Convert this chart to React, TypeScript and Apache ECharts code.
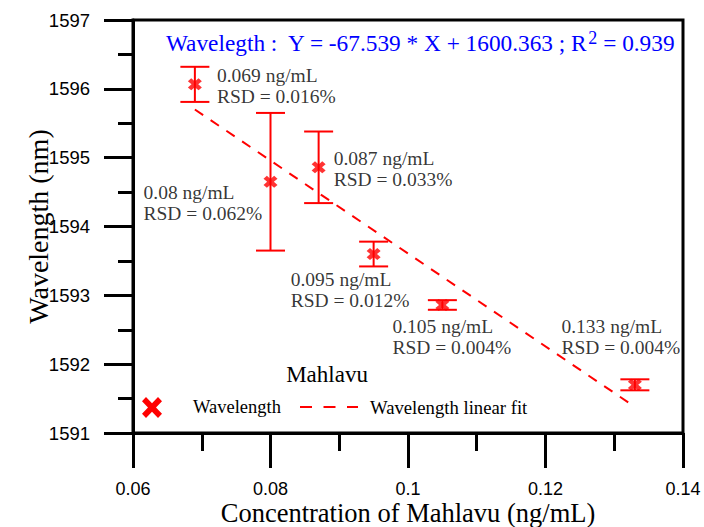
import React, { useEffect, useRef } from "react";
import * as echarts from "echarts";

// ---- data ----
const concentrations = [0.069, 0.08, 0.087, 0.095, 0.105, 0.133];
const wavelengths = [1596.065, 1594.65, 1594.86, 1593.6, 1592.86, 1591.7];
const errors = [0.255, 1.0, 0.52, 0.18, 0.07, 0.08];
const concLabels = ["0.069", "0.08", "0.087", "0.095", "0.105", "0.133"];
const rsdLabels = ["0.016", "0.062", "0.033", "0.012", "0.004", "0.004"];
const fitX = [0.069, 0.133];
const fitY = [1595.7, 1591.38];
const xTicks = { min: 0.06, max: 0.14, interval: 0.02 };
const yTicks = { min: 1591, max: 1597, interval: 1 };

// ---- layout (not data) ----
const LABEL_OFFSETS: [number, number][] = [
  [22, 1.5],
  [-127, 21],
  [15, 2],
  [-83, 36],
  [-50, 32],
  [-73.5, -48],
];

const RED = "#ff0000";
const SERIF = "'Liberation Serif', 'Times New Roman', serif";
const SANS = "'Liberation Sans', Arial, sans-serif";
const X_PATH =
  "path://M0,2.4 L2.4,0 L5,2.6 L7.6,0 L10,2.4 L7.4,5 L10,7.6 L7.6,10 L5,7.4 L2.4,10 L0,7.6 L2.6,5 Z";

function xPolygon(cx: number, cy: number, w: number, h: number) {
  const unit = [
    [0, 2], [2, 0], [5, 3], [8, 0], [10, 2], [7, 5],
    [10, 8], [8, 10], [5, 7], [2, 10], [0, 8], [3, 5],
  ];
  return unit.map(([ux, uy]) => [cx - w / 2 + (ux / 10) * w, cy - h / 2 + (uy / 10) * h]);
}

export default function App() {
  const ref = useRef<HTMLDivElement>(null);
  useEffect(() => {
    if (!ref.current) return;
    const chart = echarts.init(ref.current, undefined, { renderer: "svg" });
    const errData = concentrations.map((c, i) => [
      c,
      wavelengths[i] - errors[i],
      wavelengths[i] + errors[i],
    ]);
    const option: any = {
      animation: false,
      backgroundColor: "#fff",
      grid: {
        left: 133,
        right: 21,
        top: 20,
        bottom: 94,
        containLabel: false,
        outerBoundsMode: "none",
        show: true,
        borderColor: "#000",
        borderWidth: 3,
        backgroundColor: "transparent",
      },
      xAxis: {
        type: "value",
        min: xTicks.min,
        max: xTicks.max,
        interval: xTicks.interval,
        name: "Concentration of Mahlavu (ng/mL)",
        nameLocation: "middle",
        nameGap: 67,
        nameMoveOverlap: false,
        nameTextStyle: { fontFamily: SERIF, fontSize: 26.5, lineHeight: 26, color: "#000" },
        axisLine: { show: true, lineStyle: { color: "#000", width: 3 } },
        axisTick: { show: true, length: 35, lineStyle: { color: "#000", width: 3 } },
        minorTick: { show: true, splitNumber: 2, length: 18, lineStyle: { color: "#000", width: 3 } },
        splitLine: { show: false },
        minorSplitLine: { show: false },
        axisLabel: {
          margin: 47,
          fontFamily: SANS,
          fontSize: 18,
          lineHeight: 18,
          color: "#000",
          formatter: (v: number) => String(+v.toFixed(3)),
        },
      },
      yAxis: {
        type: "value",
        min: yTicks.min,
        max: yTicks.max,
        interval: yTicks.interval,
        name: "Wavelength (nm)",
        nameLocation: "middle",
        nameGap: 81,
        nameMoveOverlap: false,
        nameTextStyle: { fontFamily: SERIF, fontSize: 28, color: "#000" },
        axisLine: { show: true, lineStyle: { color: "#000", width: 3 } },
        axisTick: { show: true, length: 29, lineStyle: { color: "#000", width: 3 } },
        minorTick: { show: true, splitNumber: 2, length: 15, lineStyle: { color: "#000", width: 3 } },
        splitLine: { show: false },
        minorSplitLine: { show: false },
        axisLabel: {
          margin: 43,
          fontFamily: SANS,
          fontSize: 18.5,
          color: "#000",
          formatter: (v: number) => String(Math.round(v)),
        },
      },
      series: [
        {
          type: "line",
          data: fitX.map((x, i) => [x, fitY[i]]),
          showSymbol: false,
          symbol: "none",
          lineStyle: { color: RED, width: 2, type: [10, 9] },
          z: 2,
          silent: true,
        },
        {
          type: "custom",
          data: errData,
          z: 3,
          renderItem: (params: any, api: any) => {
            const x = api.value(0);
            const lo = api.value(1);
            const hi = api.value(2);
            const pt = api.coord([x, hi]);
            const pb = api.coord([x, lo]);
            const half = 14.5;
            const st = { stroke: RED, lineWidth: 2 };
            return {
              type: "group",
              children: [
                { type: "line", shape: { x1: pt[0], y1: pt[1], x2: pb[0], y2: pb[1] }, style: st },
                { type: "line", shape: { x1: pt[0] - half, y1: pt[1], x2: pt[0] + half, y2: pt[1] }, style: st },
                { type: "line", shape: { x1: pb[0] - half, y1: pb[1], x2: pb[0] + half, y2: pb[1] }, style: st },
              ],
            };
          },
        },
        {
          type: "scatter",
          symbol: X_PATH,
          symbolSize: [14, 12],
          itemStyle: { color: RED },
          z: 4,
          data: concentrations.map((c, i) => ({
            value: [c, wavelengths[i]],
            label: { offset: LABEL_OFFSETS[i] },
          })),
          label: {
            show: true,
            position: "inside",
            align: "left",
            verticalAlign: "middle",
            fontFamily: SERIF,
            fontSize: 19.5,
            lineHeight: 21,
            color: "#000",
            formatter: (p: any) =>
              `${concLabels[p.dataIndex]} ng/mL\nRSD = ${rsdLabels[p.dataIndex]}%`,
          },
        },
      ],
      graphic: [
        {
          type: "text",
          left: 166,
          top: 29,
          style: {
            text: "Wavelegth :  Y = -67.539 * X + 1600.363 ; R{sup|2} = 0.939",
            fontFamily: SERIF,
            fontSize: 23.3,
            fill: "#0000ff",
            lineHeight: 28,
            rich: {
              sup: {
                fontFamily: SERIF,
                fontSize: 18,
                fill: "#0000ff",
                color: "#0000ff",
                verticalAlign: "top",
                lineHeight: 18,
              },
            },
          },
        },
        {
          type: "text",
          x: 327,
          y: 374,
          style: {
            text: "Mahlavu",
            fontFamily: SERIF,
            fontSize: 23,
            fill: "#000",
            align: "center",
            verticalAlign: "middle",
          },
        },
        {
          type: "polygon",
          shape: { points: xPolygon(152, 407.5, 20, 21) },
          style: { fill: RED },
        },
        {
          type: "text",
          x: 193,
          y: 407,
          style: {
            text: "Wavelength",
            fontFamily: SERIF,
            fontSize: 18.5,
            fill: "#000",
            align: "left",
            verticalAlign: "middle",
          },
        },
        {
          type: "line",
          shape: { x1: 300, y1: 407, x2: 358, y2: 407 },
          style: { stroke: RED, lineWidth: 2, lineDash: [12, 11.5] },
        },
        {
          type: "text",
          x: 370,
          y: 407,
          style: {
            text: "Wavelength linear fit",
            fontFamily: SERIF,
            fontSize: 18.7,
            fill: "#000",
            align: "left",
            verticalAlign: "middle",
          },
        },
      ],
    };
    chart.setOption(option);
    return () => chart.dispose();
  }, []);
  return (
    <div
      ref={ref}
      style={{ position: "fixed", left: 0, top: 0, width: 704, height: 527 }}
    />
  );
}
